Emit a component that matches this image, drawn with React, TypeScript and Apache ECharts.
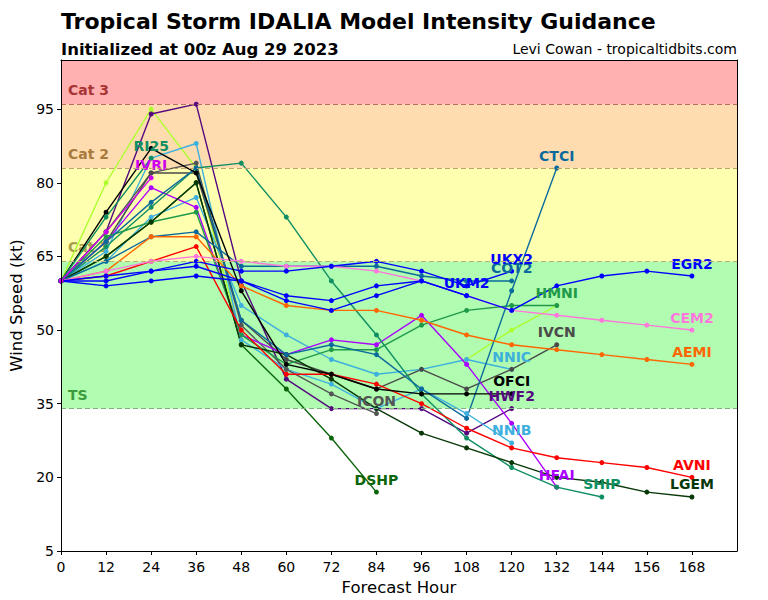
import React, { useEffect, useRef } from "react";
import * as echarts from "echarts";

const FONT = "DejaVu Sans";

const hours = [0, 12, 24, 36, 48, 60, 72, 84, 96, 108, 120, 132, 144, 156, 168];
const xTicks = [0, 12, 24, 36, 48, 60, 72, 84, 96, 108, 120, 132, 144, 156, 168];
const yTicks = [5, 20, 35, 50, 65, 80, 95];

// intensity (kt) per forecast hour; null = no value
const LIME = [60, 80, 95, 83, 48, null, null, null, null, 44, 50, 55];
const RI25 = [60, 73, 85];
const IVRI = [60, 70, 81];
const HWF2 = [60, 70, 94, 96, 60, 40, 34, 34, 34, 29, 34];
const NNIB = [60, 66, 85, 88, 48, 42, 39, 34, 38, 33, 27];
const NNIC = [60, 64, 73, 77, 55, 49, 44, 41, 42, 44, 42];
const ICON = [60, 70, 82, 84, 51, 42, 37, 33];
const IVCN = [60, 68, 82, 82, 52, 44, 41, 38, 42, 38, 42, 47];
const HFAI = [60, 68, 79, 75, 49, 45, 48, 47, 53, 43, 31, 18];
const SHIP = [60, 67, 75, 83, 84, 73, 60, 49, 37, 28, 22, 18, 16];
const HMNI = [60, 69, 72, 74, 49, 43, 46, 46, 51, 54, 55, 55];
const DSHP = [60, 65, 72, 80, 47, 38, 28, 17];
const LGEM = [60, 65, 72, 80, 47, 45, 40, 34, 29, 26, 23, 20, 19, 17, 16];
const CTCI = [60, 68, 76, 83, 52, 45, 47, 45, 38, 32, 58, 83];
const COT2 = [60, 64, 69, 70, 63, 63, 63, 63, 61, 60, 60];
const AEMI = [60, 62, 69, 69, 59, 55, 54, 54, 52, 49, 47, 46, 45, 44, 43];
const AVNI = [60, 61, 64, 67, 50, 41, 41, 39, 35, 30, 26, 24, 23, 22, 20];
const CEM2 = [60, 62, 64, 65, 64, 63, 63, 62, 60, 57, 54, 53, 52, 51, 50];
const UKX2 = [60, 61, 62, 64, 62, 62, 63, 64, 62, 59, 62];
const UKM2 = [60, 60, 62, 63, 60, 57, 56, 59, 60, 57];
const EGR2 = [60, 59, 60, 61, 60, 56, 54, 57, 60, 57, 54, 59, 61, 62, 61];
const OFCI = [60, 74, 87, 82, 58, 43, 41, 38, 37, 37, 37];

const models: { name: string; values: (number | null)[]; color: string; label: boolean }[] = [
  { name: "HWFI", values: LIME, color: "#adff2f", label: false },
  { name: "HWF2", values: HWF2, color: "#55087f", label: true },
  { name: "NNIB", values: NNIB, color: "#3eb0de", label: true },
  { name: "NNIC", values: NNIC, color: "#3eb0de", label: true },
  { name: "ICON", values: ICON, color: "#555555", label: true },
  { name: "IVCN", values: IVCN, color: "#4a4a4a", label: true },
  { name: "HFAI", values: HFAI, color: "#aa00ff", label: true },
  { name: "SHIP", values: SHIP, color: "#0f8f62", label: true },
  { name: "HMNI", values: HMNI, color: "#1f9a4a", label: true },
  { name: "DSHP", values: DSHP, color: "#0b650b", label: true },
  { name: "LGEM", values: LGEM, color: "#083808", label: true },
  { name: "CTCI", values: CTCI, color: "#0b6a9c", label: true },
  { name: "COT2", values: COT2, color: "#0b6a9c", label: true },
  { name: "AEMI", values: AEMI, color: "#ff6600", label: true },
  { name: "AVNI", values: AVNI, color: "#ff0000", label: true },
  { name: "CEM2", values: CEM2, color: "#ff77dd", label: true },
  { name: "UKM2", values: UKM2, color: "#0000ff", label: true },
  { name: "EGR2", values: EGR2, color: "#0000ff", label: true },
  { name: "UKX2", values: UKX2, color: "#0000ff", label: true },
  { name: "OFCI", values: OFCI, color: "#000000", label: true },
  { name: "RI25", values: RI25, color: "#0f8f62", label: true },
  { name: "IVRI", values: IVRI, color: "#cc00ee", label: true },
];

const bandNames = ["TS", "Cat 1", "Cat 2", "Cat 3"];
const bandLow = [34, 64, 83, 96];
const bandHigh = [64, 83, 96, 105];
const bandFill = ["#b0fcb0", "#ffffb0", "#ffdcb0", "#ffb0b0"];
const bandText = ["#3c9c3c", "#a8a048", "#a87a3c", "#a83434"];
const bandLine = ["#80b080", "#b8b070", "#c0a070", "#b87060"];

function modelSeries(m: { name: string; values: (number | null)[]; color: string; label: boolean }) {
  let last = -1;
  m.values.forEach((v, i) => {
    if (v != null) last = i;
  });
  const data = m.values.map((v, i) => {
    if (v == null) return [hours[i], "-"];
    if (i === last && m.label) {
      return {
        value: [hours[i], v],
        label: {
          show: true,
          position: "top",
          distance: 3,
          formatter: m.name,
          color: m.color,
          fontFamily: FONT,
          fontWeight: "bold",
          fontSize: 14,
        },
      };
    }
    return [hours[i], v];
  });
  return {
    type: "line",
    name: m.name,
    data,
    symbol: "circle",
    symbolSize: 5,
    showAllSymbol: true,
    connectNulls: false,
    lineStyle: { width: 1.4, color: m.color },
    itemStyle: { color: m.color },
    emphasis: { disabled: true },
    z: 3,
  };
}

export default function App() {
  const ref = useRef<HTMLDivElement>(null);
  useEffect(() => {
    document.body.style.margin = "0";
    const chart = echarts.init(ref.current!, null, { renderer: "svg" });
    const axisCommon = {
      z: 10,
      axisLine: { show: true, onZero: false, lineStyle: { color: "#000", width: 1 } },
      splitLine: { show: false },
    };
    chart.setOption({
      animation: false,
      textStyle: { fontFamily: FONT },
      title: [
        {
          text: "Tropical Storm IDALIA Model Intensity Guidance",
          left: 61,
          top: 10,
          padding: 0,
          textStyle: { fontFamily: FONT, fontWeight: "bold", fontSize: 22, color: "#000" },
        },
        {
          text: "Initialized at 00z Aug 29 2023",
          left: 61,
          top: 41,
          padding: 0,
          textStyle: { fontFamily: FONT, fontWeight: "bold", fontSize: 16.5, color: "#000" },
        },
        {
          text: "Levi Cowan - tropicaltidbits.com",
          right: 31,
          top: 42,
          padding: 0,
          textStyle: { fontFamily: FONT, fontWeight: "normal", fontSize: 14, color: "#000" },
        },
      ],
      grid: { left: 61, right: 31, top: 60, bottom: 49, containLabel: false, outerBoundsMode: "none" },
      xAxis: [
        {
          ...axisCommon,
          type: "value",
          min: 0,
          max: 180,
          interval: 12,
          name: "Forecast Hour",
          nameLocation: "middle",
          nameGap: 28,
          nameTextStyle: { fontFamily: FONT, fontSize: 16.5, color: "#000" },
          axisTick: { show: true, inside: false, length: 4, lineStyle: { color: "#000" }, customValues: xTicks },
          axisLabel: { show: true, margin: 9, fontFamily: FONT, fontSize: 14, color: "#000", customValues: xTicks },
        },
        {
          ...axisCommon,
          type: "value",
          position: "top",
          min: 0,
          max: 180,
          axisTick: { show: false },
          axisLabel: { show: false },
        },
      ],
      yAxis: [
        {
          ...axisCommon,
          type: "value",
          min: 5,
          max: 105,
          interval: 15,
          name: "Wind Speed (kt)",
          nameLocation: "middle",
          nameGap: 30,
          nameTextStyle: { fontFamily: FONT, fontSize: 16.5, color: "#000" },
          axisTick: { show: true, inside: false, length: 4, lineStyle: { color: "#000" }, customValues: yTicks },
          axisLabel: { show: true, margin: 7, fontFamily: FONT, fontSize: 14, color: "#000", customValues: yTicks },
        },
        {
          ...axisCommon,
          type: "value",
          position: "right",
          min: 5,
          max: 105,
          axisTick: { show: false },
          axisLabel: { show: false },
        },
      ],
      series: [
        {
          type: "line",
          data: [],
          silent: true,
          z: 1,
          markArea: {
            silent: true,
            data: bandNames.map((n, i) => [
              {
                name: n,
                yAxis: bandLow[i],
                itemStyle: { color: bandFill[i], opacity: 1 },
                label: {
                  show: true,
                  position: "insideBottomLeft",
                  distance: 7,
                  color: bandText[i],
                  fontFamily: FONT,
                  fontWeight: "bold",
                  fontSize: 14,
                },
              },
              { yAxis: bandHigh[i] },
            ]),
          },
          markLine: {
            silent: true,
            symbol: "none",
            label: { show: false },
            data: bandLow.map((v, i) => ({
              yAxis: v,
              lineStyle: { color: bandLine[i], type: [5, 3], width: 1.2 },
            })),
          },
        },
        ...models.map(modelSeries),
      ],
    });
    return () => chart.dispose();
  }, []);
  return <div ref={ref} style={{ width: 768, height: 600 }} />;
}
